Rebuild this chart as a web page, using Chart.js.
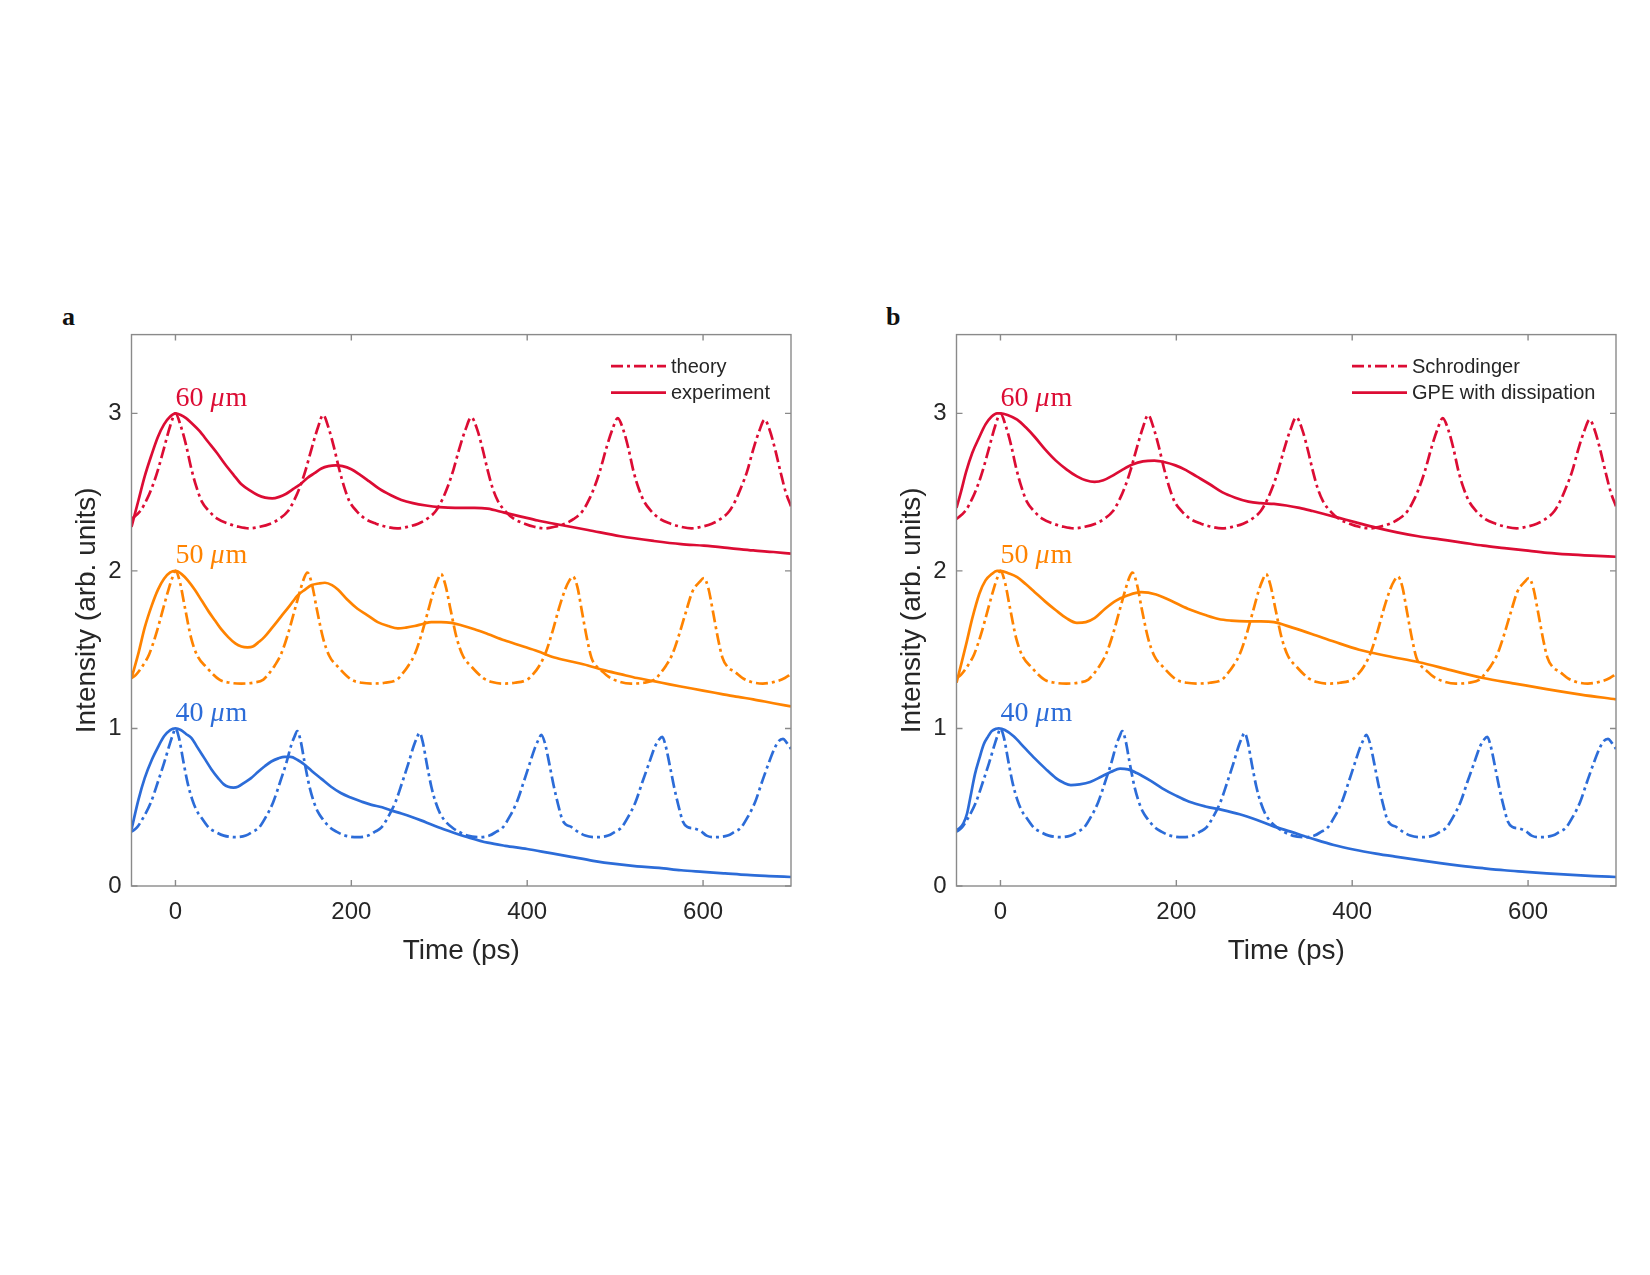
<!DOCTYPE html>
<html>
<head>
<meta charset="utf-8">
<script src="https://cdn.jsdelivr.net/npm/chart.js@4.4.1/dist/chart.umd.min.js"></script>
<style>
  body { margin: 0; background: #fff; }
  #page { position: relative; width: 1650px; height: 1275px; background: #fff; }
  canvas { position: absolute; }
  .tag { position: absolute; font-family: 'Liberation Serif', 'DejaVu Serif', serif; font-weight: bold; font-size: 26px; color: #111; }
</style>
</head>
<body>
<div id="page">
  <div class="tag" style="left:62px; top:302px;">a</div>
  <div class="tag" style="left:886px; top:302px;">b</div>
  <canvas id="chartA" width="820" height="680" style="left:0px; top:300px;"></canvas>
  <canvas id="chartB" width="820" height="680" style="left:825px; top:300px;"></canvas>
</div>
<script>
// axis ticks
var xTicks = [0, 200, 400, 600]
var yTicks = [0, 1, 2, 3]

// dash-dot theory curves (same in both panels), [time ps, intensity]
var theory60 = [[-50,2.33],[-40,2.38],[-32,2.46],[-26,2.54],[-20,2.64],[-13,2.78],[-6,2.92],[0,3.00],
  [6,2.92],[12,2.80],[18,2.65],[24,2.53],[30,2.44],[38,2.38],[48,2.33],[60,2.30],[72,2.28],[84,2.27],
  [96,2.28],[108,2.30],[118,2.33],[128,2.38],[136,2.46],[142,2.54],[148,2.64],[155,2.78],[162,2.91],[168,2.99],
  [174,2.91],[180,2.79],[186,2.65],[192,2.53],[198,2.44],[206,2.38],[216,2.33],[228,2.30],[240,2.28],[252,2.27],
  [264,2.28],[276,2.30],[286,2.33],[296,2.38],[304,2.46],[310,2.54],[316,2.64],[323,2.78],[330,2.90],[336.5,2.975],
  [343,2.90],[349,2.78],[355,2.64],[361,2.52],[367,2.44],[375,2.38],[385,2.33],[397,2.30],[408,2.28],[420,2.27],
  [431,2.28],[443,2.30],[453,2.33],[463,2.38],[471,2.46],[477,2.54],[483,2.64],[490,2.78],[497,2.90],[503,2.97],
  [509,2.90],[515,2.78],[521,2.63],[527,2.52],[533,2.44],[541,2.38],[551,2.33],[563,2.30],[575,2.28],[587,2.27],
  [598,2.28],[610,2.30],[620,2.33],[630,2.38],[638,2.46],[644,2.54],[650,2.63],[657,2.77],[664,2.89],[670,2.96],
  [676,2.89],[682,2.77],[688,2.63],[694,2.50],[700,2.41]]

var theory50 = [[-50,1.32],[-45,1.34],[-37,1.40],[-30,1.47],[-22,1.60],[-15,1.74],[-8,1.88],[-4,1.95],[0,2.00],
  [5,1.93],[11,1.76],[18,1.57],[25,1.46],[35,1.39],[50,1.31],[62,1.29],[75,1.285],
  [88,1.29],[100,1.31],[105,1.34],[113,1.40],[120,1.47],[128,1.60],[135,1.74],[142,1.88],[146,1.95],[150,1.99],
  [155,1.92],[161,1.75],[168,1.57],[175,1.46],[185,1.39],[200,1.31],[212,1.29],[224,1.285],
  [238,1.29],[252,1.31],[257,1.34],[265,1.40],[272,1.47],[280,1.60],[287,1.74],[294,1.88],[298,1.94],[302,1.98],
  [307,1.91],[313,1.75],[320,1.57],[327,1.46],[337,1.39],[350,1.32],[360,1.295],[372,1.285],
  [386,1.29],[400,1.31],[406,1.34],[414,1.40],[421,1.48],[429,1.62],[436,1.76],[443,1.88],[448,1.94],[452,1.965],
  [457,1.90],[462,1.75],[468,1.57],[473,1.45],[478,1.40],[484,1.37],[492,1.33],[503,1.30],[518,1.285],
  [533,1.29],[545,1.31],[550,1.34],[558,1.40],[565,1.47],[573,1.60],[580,1.73],[588,1.87],[596,1.93],[601,1.955],
  [606,1.89],[611,1.75],[617,1.57],[622,1.45],[628,1.39],[636,1.36],[645,1.32],[655,1.295],[668,1.285],
  [684,1.30],[693,1.32],[700,1.345]]

var theory40 = [[-50,0.345],[-44,0.37],[-36,0.44],[-28,0.53],[-20,0.66],[-13,0.78],[-6,0.91],[-3,0.96],[0,1.00],
  [4,0.94],[9,0.79],[14,0.65],[19,0.55],[24,0.48],[30,0.43],[38,0.37],[45,0.345],[55,0.32],[68,0.31],
  [80,0.32],[88,0.345],[95,0.37],[103,0.44],[111,0.53],[119,0.66],[126,0.78],[132,0.90],[135.5,0.95],[138.5,0.983],
  [142,0.93],[147,0.78],[152,0.64],[157,0.54],[162,0.47],[168,0.42],[176,0.37],[183,0.345],[193,0.32],[207,0.31],
  [219,0.32],[227,0.345],[234,0.37],[242,0.44],[250,0.53],[258,0.66],[265,0.78],[271,0.89],[274.5,0.94],[277.5,0.972],
  [281,0.92],[286,0.77],[291,0.63],[296,0.53],[301,0.46],[307,0.41],[315,0.37],[322,0.345],[332,0.32],[345,0.31],
  [357,0.32],[365,0.345],[372,0.37],[380,0.44],[388,0.53],[396,0.66],[403,0.78],[409,0.88],[413,0.93],[416,0.96],
  [420,0.91],[425,0.78],[430,0.64],[435,0.52],[440,0.42],[444,0.39],[450,0.375],[456,0.35],[466,0.32],[478,0.31],
  [492,0.32],[500,0.345],[507,0.37],[515,0.44],[523,0.53],[531,0.66],[538,0.77],[545,0.88],[550,0.93],[553.6,0.947],
  [557,0.90],[562,0.77],[567,0.63],[572,0.51],[577,0.41],[582,0.375],[590,0.365],[597,0.35],[604,0.32],[612,0.31],
  [628,0.32],[636,0.345],[643,0.37],[651,0.44],[659,0.53],[667,0.66],[674,0.77],[681,0.87],[686,0.92],[691,0.934],
  [695,0.91],[700,0.87]]

// panel a: experiment
var exp60 = [[-50,2.28],[-42,2.45],[-35,2.60],[-27,2.74],[-20,2.85],[-13,2.93],[-6,2.98],[0,3.00],[6,2.99],[12,2.97],
  [18,2.94],[27,2.89],[37,2.82],[47,2.75],[56,2.68],[66,2.61],[75,2.55],[85,2.51],[94,2.48],[102,2.465],[110,2.46],
  [118,2.47],[126,2.49],[134,2.52],[142,2.55],[150,2.59],[158,2.62],[166,2.65],[174,2.665],[182,2.67],[190,2.665],
  [200,2.645],[210,2.61],[220,2.57],[232,2.52],[245,2.48],[257,2.45],[270,2.43],[285,2.415],[300,2.405],[318,2.40],
  [340,2.40],[355,2.395],[374,2.37],[393,2.345],[412,2.32],[440,2.29],[469,2.26],[506,2.22],[544,2.19],[575,2.17],
  [601,2.16],[630,2.145],[657,2.13],[680,2.12],[700,2.11]]

var exp50 = [[-50,1.32],[-42,1.48],[-35,1.64],[-27,1.78],[-20,1.88],[-13,1.95],[-6,1.99],[0,2.00],[7,1.98],[14,1.94],
  [22,1.88],[30,1.81],[38,1.74],[45,1.685],[52,1.63],[60,1.58],[68,1.54],[75,1.52],[82,1.515],[88,1.52],[95,1.55],
  [101,1.58],[110,1.64],[120,1.71],[130,1.78],[139,1.845],[147,1.88],[155,1.91],[163,1.92],[170,1.925],[178,1.91],
  [185,1.88],[195,1.82],[207,1.76],[218,1.72],[230,1.675],[242,1.65],[253,1.635],[262,1.64],[272,1.65],[282,1.665],
  [291,1.675],[302,1.675],[314,1.67],[325,1.655],[340,1.63],[355,1.60],[374,1.56],[393,1.525],[412,1.49],[431,1.45],
  [450,1.425],[469,1.40],[487,1.37],[506,1.345],[525,1.32],[544,1.30],[562,1.28],[581,1.26],[600,1.24],[620,1.22],
  [640,1.20],[657,1.185],[680,1.16],[700,1.14]]

var exp40 = [[-50,0.36],[-42,0.55],[-35,0.685],[-27,0.80],[-20,0.88],[-13,0.95],[-6,0.99],[0,1.00],[6,0.99],[12,0.965],
  [18,0.94],[25,0.88],[33,0.81],[41,0.74],[48.5,0.685],[55,0.645],[60,0.63],[66,0.625],[71,0.63],[78,0.655],[86,0.685],
  [94,0.725],[101.5,0.76],[109,0.79],[117,0.81],[124,0.82],[131,0.82],[139,0.80],[147,0.77],[155,0.73],[166,0.68],
  [177,0.63],[188,0.59],[200,0.56],[212,0.535],[223,0.515],[235,0.50],[245,0.48],[257,0.46],[268,0.44],[280,0.415],
  [291,0.39],[305,0.36],[318,0.335],[335,0.305],[355,0.275],[375,0.255],[400,0.235],[425,0.21],[450,0.185],[475,0.16],
  [500,0.14],[525,0.125],[550,0.115],[575,0.10],[600,0.09],[625,0.08],[650,0.07],[675,0.063],[700,0.057]]

// panel b: GPE with dissipation
var gpe60 = [[-50,2.40],[-45,2.50],[-39,2.63],[-32,2.75],[-24,2.85],[-17,2.93],[-10,2.98],[-4,3.00],[0,3.00],[8,2.99],
  [19,2.96],[29,2.91],[39,2.85],[51,2.77],[63,2.70],[75,2.645],[87,2.60],[97,2.575],[107,2.565],[117,2.575],[126,2.60],
  [138,2.64],[150,2.675],[162,2.695],[175,2.70],[187,2.69],[199,2.67],[211,2.64],[223,2.60],[238,2.55],[252,2.50],
  [267,2.465],[282,2.44],[296,2.43],[311,2.425],[325,2.415],[340,2.40],[355,2.38],[369,2.36],[386,2.335],[403,2.31],
  [427,2.275],[451,2.245],[475,2.22],[500,2.20],[525,2.18],[549,2.16],[573,2.145],[597,2.13],[622,2.115],[646,2.105],
  [672,2.097],[700,2.09]]

var gpe50 = [[-50,1.29],[-45,1.40],[-39,1.535],[-32,1.70],[-24,1.855],[-17,1.94],[-10,1.98],[-4,2.00],[0,2.00],[9,1.985],
  [19,1.96],[29,1.915],[39,1.865],[51,1.805],[63,1.75],[75,1.70],[87,1.67],[97,1.675],[107,1.70],[119,1.76],[131,1.81],
  [145,1.845],[160,1.865],[177,1.85],[194,1.81],[213,1.76],[233,1.72],[248,1.695],[262,1.685],[280,1.68],[296,1.68],
  [311,1.675],[332,1.64],[354,1.60],[380,1.55],[408,1.50],[440,1.46],[476,1.42],[512,1.37],[549,1.32],[585,1.285],
  [621,1.25],[660,1.215],[700,1.185]]

var gpe40 = [[-50,0.355],[-46,0.37],[-42,0.40],[-38,0.46],[-34,0.57],[-29,0.71],[-24,0.81],[-19,0.90],[-14,0.95],[-10,0.983],
  [-5,0.998],[-2,1.00],[5,0.99],[15,0.95],[27,0.88],[39,0.81],[51,0.745],[63,0.685],[72,0.655],[80,0.64],[90,0.645],
  [102,0.66],[115,0.695],[126,0.725],[136,0.745],[145,0.74],[155,0.717],[170,0.67],[184,0.62],[199,0.575],[214,0.536],
  [233,0.505],[252,0.483],[272,0.455],[291,0.42],[310,0.38],[330,0.345],[355,0.30],[379,0.26],[403,0.23],[427,0.206],
  [451,0.185],[476,0.164],[500,0.145],[524,0.128],[549,0.113],[573,0.10],[597,0.09],[621,0.08],[650,0.07],[675,0.063],
  [700,0.057]]

// curve labels
var sizeLabels = ['60 ', '50 ', '40 ']
var sizeLabelY = [3.095, 2.095, 1.095]

var red = '#dc0c34'
var orange = '#ff8300'
var blue = '#2c6cd8'
var textColor = '#262626'
var boxColor = '#8a8a8a'
var dashDot = [12, 4, 3, 4]

//turns [[t,v],...] into chart.js points
function pts(arr) {
    return arr.map(p => ({x: p[0], y: p[1]}))
}

function line(data, color, dashed) {
    return {
        data: pts(data),
        borderColor: color,
        borderWidth: 2.7,
        borderDash: dashed ? dashDot : [],
        pointRadius: 0,
        fill: false,
        cubicInterpolationMode: 'monotone'
    }
}

//box, inward ticks, legend and the "xx um" labels
var framePlugin = {
    id: 'frame',
    afterDatasetsDraw(chart, args, opts) {
        var ctx = chart.ctx
        var a = chart.chartArea
        var xs = chart.scales.x
        var ys = chart.scales.y
        var tl = 6
        ctx.save()
        ctx.strokeStyle = boxColor
        ctx.lineWidth = 1.4
        ctx.setLineDash([])
        ctx.strokeRect(a.left, a.top, a.right - a.left, a.bottom - a.top)
        ctx.beginPath()
        xTicks.forEach(v => {
            var px = xs.getPixelForValue(v)
            ctx.moveTo(px, a.bottom); ctx.lineTo(px, a.bottom - tl)
            ctx.moveTo(px, a.top); ctx.lineTo(px, a.top + tl)
        })
        yTicks.forEach(v => {
            var py = ys.getPixelForValue(v)
            ctx.moveTo(a.left, py); ctx.lineTo(a.left + tl, py)
            ctx.moveTo(a.right, py); ctx.lineTo(a.right - tl, py)
        })
        ctx.stroke()

        // legend
        var lx = a.right - opts.legendRight
        var rows = [a.top + 31.5, a.top + 58]
        ctx.strokeStyle = red
        ctx.lineWidth = 2.7
        ctx.setLineDash(dashDot)
        ctx.beginPath(); ctx.moveTo(lx, rows[0]); ctx.lineTo(lx + 55, rows[0]); ctx.stroke()
        ctx.setLineDash([])
        ctx.beginPath(); ctx.moveTo(lx, rows[1]); ctx.lineTo(lx + 55, rows[1]); ctx.stroke()
        ctx.fillStyle = textColor
        ctx.font = "20px 'Liberation Sans', Arial, sans-serif"
        ctx.textBaseline = 'middle'
        ctx.textAlign = 'left'
        ctx.fillText(opts.labels[0], lx + 60, rows[0] + 1)
        ctx.fillText(opts.labels[1], lx + 60, rows[1] + 1)

        // size labels
        var cols = [red, orange, blue]
        var x0 = xs.getPixelForValue(0)
        sizeLabels.forEach((s, i) => {
            var y = ys.getPixelForValue(sizeLabelY[i])
            ctx.fillStyle = cols[i]
            ctx.font = "28px 'Liberation Serif', serif"
            ctx.fillText(s, x0, y)
            var w = ctx.measureText(s).width
            ctx.font = "italic 28px 'Liberation Serif', serif"
            ctx.fillText('\u03bc', x0 + w, y)
            var w2 = ctx.measureText('\u03bc').width
            ctx.font = "28px 'Liberation Serif', serif"
            ctx.fillText('m', x0 + w + w2 + 1, y)
        })
        ctx.restore()
    }
}

function makeChart(id, solid60, solid50, solid40, labels, legendRight) {
    var ctx = document.getElementById(id).getContext('2d')
    return new Chart(ctx, {
        type: 'line',
        data: {
            datasets: [
                line(theory60, red, true),
                line(theory50, orange, true),
                line(theory40, blue, true),
                line(solid60, red, false),
                line(solid50, orange, false),
                line(solid40, blue, false)
            ]
        },
        options: {
            responsive: false,
            animation: false,
            devicePixelRatio: 1,
            layout: { padding: { top: 34.6, right: 29, bottom: 0, left: 0 } },
            plugins: {
                legend: { display: false },
                tooltip: { enabled: false },
                frame: { labels: labels, legendRight: legendRight }
            },
            scales: {
                x: {
                    type: 'linear', min: -50, max: 700,
                    grid: { display: false, drawTicks: false },
                    border: { display: false },
                    afterBuildTicks: s => { s.ticks = xTicks.map(v => ({value: v})) },
                    afterFit: s => { s.height = 94 },
                    ticks: { color: textColor, font: { size: 24 }, padding: 12, maxRotation: 0 },
                    title: { display: true, text: 'Time (ps)', color: textColor, font: { size: 28 }, padding: { top: 0, bottom: 12 } }
                },
                y: {
                    type: 'linear', min: 0, max: 3.5,
                    grid: { display: false, drawTicks: false },
                    border: { display: false },
                    afterBuildTicks: s => { s.ticks = yTicks.map(v => ({value: v})) },
                    afterFit: s => { s.width = 131.5 },
                    ticks: { color: textColor, font: { size: 24 }, padding: 10 },
                    title: { display: true, text: 'Intensity (arb. units)', color: textColor, font: { size: 28 }, padding: { top: 70, bottom: 0 } }
                }
            }
        },
        plugins: [framePlugin]
    })
}

Chart.defaults.font.family = "'Liberation Sans', Arial, Helvetica, sans-serif"
makeChart('chartA', exp60, exp50, exp40, ['theory', 'experiment'], 180)
makeChart('chartB', gpe60, gpe50, gpe40, ['Schrodinger', 'GPE with dissipation'], 264)
</script>
</body>
</html>
